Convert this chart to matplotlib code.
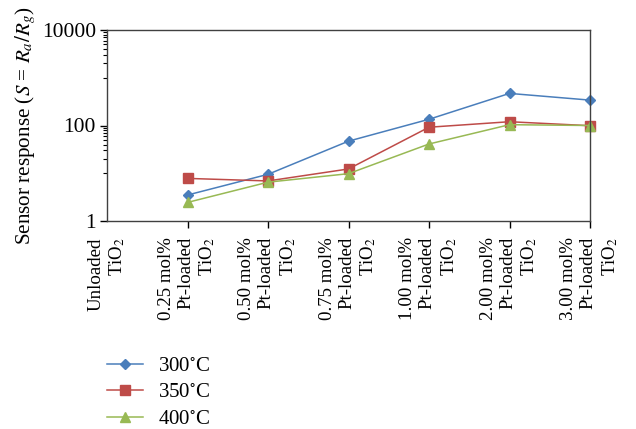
import matplotlib
matplotlib.use("Agg")
import matplotlib.pyplot as plt
import numpy as np

plt.rcParams['font.family'] = ['Liberation Serif', 'DejaVu Serif']
plt.rcParams['mathtext.fontset'] = 'stix'

categories = [
    "Unloaded\nTiO$_2$",
    "0.25 mol%\nPt-loaded\nTiO$_2$",
    "0.50 mol%\nPt-loaded\nTiO$_2$",
    "0.75 mol%\nPt-loaded\nTiO$_2$",
    "1.00 mol%\nPt-loaded\nTiO$_2$",
    "2.00 mol%\nPt-loaded\nTiO$_2$",
    "3.00 mol%\nPt-loaded\nTiO$_2$",
]
# first category (unloaded) has no data point
s300 = [np.nan, 3.5, 9.5, 47, 135, 470, 340]
s350 = [np.nan, 7.8, 6.9, 12.3, 92, 120, 99]
s400 = [np.nan, 2.45, 6.5, 9.8, 41, 104, 100]
series_labels = ["300$^{\\circ}$C", "350$^{\\circ}$C", "400$^{\\circ}$C"]
colors = ["#4A7EBB", "#BE4B48", "#98B954"]
markers = ["D", "s", "^"]

fig = plt.figure(figsize=(6.36, 4.29), dpi=100)
ax = fig.add_axes([107/636, 1-221/429, (590-107)/636, (221-30)/429])

x = np.arange(len(categories))
handles = []
for vals, lab, c, m in zip([s300, s350, s400], series_labels, colors, markers):
    ms = 5.5 if m == "D" else 7
    h, = ax.plot(x, vals, color=c, marker=m, markersize=ms, lw=1.1,
                 markeredgecolor=c, label=lab, clip_on=False)
    handles.append(h)

ax.set_yscale('log')
ax.set_ylim(1, 10000)
ax.set_xlim(0, len(categories) - 1)
ax.yaxis.set_major_locator(matplotlib.ticker.FixedLocator([1, 100, 10000]))
ax.yaxis.set_major_formatter(matplotlib.ticker.FixedFormatter(["1", "100", "10000"]))
minor = [k * 10 for k in range(1, 10)] + [k * 1000 for k in range(1, 10)]
ax.yaxis.set_minor_locator(matplotlib.ticker.FixedLocator(minor))
ax.yaxis.set_minor_formatter(matplotlib.ticker.NullFormatter())

ax.set_xticks(x[1:])
ax.set_xticklabels([])
for xi, lab in zip(x, categories):
    ax.text(xi, -0.085, lab, rotation=90, ha='center', va='top', multialignment='right',
            fontsize=13.6, transform=ax.get_xaxis_transform(), linespacing=1.2)

ax.tick_params(axis='y', which='major', length=5, width=1, labelsize=15.5, direction='out', pad=3)
ax.tick_params(axis='y', which='minor', length=3, width=0.8, direction='out')
ax.tick_params(axis='x', which='major', length=5, width=1, direction='out')
for sp in ax.spines.values():
    sp.set_color('#404040')
    sp.set_linewidth(1.0)

ax.set_ylabel("Sensor response ($S$ = $R_a/R_g$)", fontsize=15.2, labelpad=3)

fig.legend(handles=handles, loc='upper left', bbox_to_anchor=(99/636, 1-348/429),
           frameon=False, fontsize=15, handlelength=1.7, handletextpad=0.75,
           labelspacing=0.33, borderaxespad=0)

fig.savefig("out.png", dpi=100)
